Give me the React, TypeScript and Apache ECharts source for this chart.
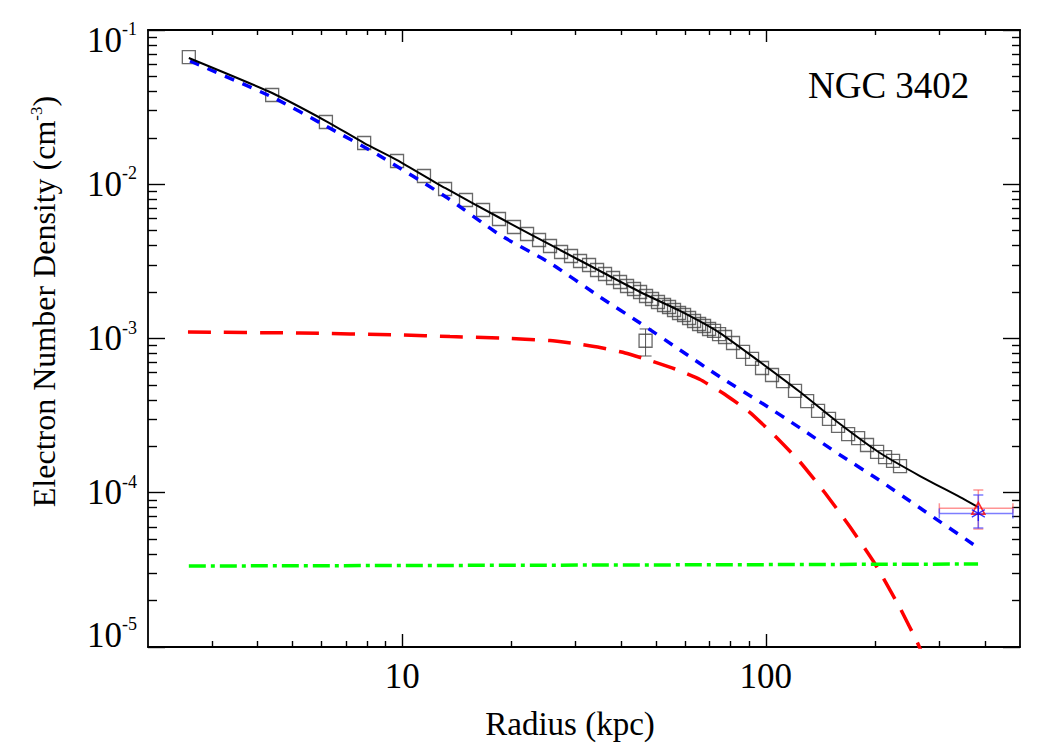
import React, { useEffect, useRef } from 'react';
import * as echarts from 'echarts';

const FONT = '"Liberation Serif", "Times New Roman", Times, serif';

// ---- observed deprojected density profile (open squares)
const dataRadius = [2.59, 4.39, 6.17, 7.86, 9.68, 11.48, 13.12, 14.98, 16.69, 18.46, 20.3, 22.05, 23.79, 25.5, 27.35, 29.13, 30.84, 32.65, 34.35, 36.13, 38.01, 39.73, 41.53, 43.41, 45.1, 46.84, 48.66, 50.52, 52.49, 54.18, 55.92, 57.72, 59.59, 61.51, 63.48, 65.53, 67.63, 69.81, 72.05, 74.37, 77.25, 81.25, 86.57, 91.66, 97.63, 104.0, 111.5, 120.3, 129.9, 139.2, 149.2, 158.0, 168.4, 179.4, 189.8, 202.3, 212.8, 223.8, 233.9];
const dataDensity = [0.0668, 0.0379, 0.02533, 0.01851, 0.01415, 0.01131, 0.009316, 0.007906, 0.006809, 0.005953, 0.005282, 0.004759, 0.004351, 0.003979, 0.003637, 0.003426, 0.003181, 0.002995, 0.00278, 0.002619, 0.002467, 0.002324, 0.00219, 0.002094, 0.002002, 0.001886, 0.001803, 0.001724, 0.001649, 0.0016, 0.00153, 0.001463, 0.00142, 0.001358, 0.001299, 0.001242, 0.001205, 0.001152, 0.001119, 0.001069, 0.001023, 0.000935, 0.000818, 0.000737, 0.000644, 0.00058, 0.00053, 0.000457, 0.000393, 0.000339, 0.000301, 0.000271, 0.00024, 0.000226, 0.000204, 0.000184, 0.00017, 0.000161, 0.000149];

// outlying annulus with its error bar
const outlierRadius = [46.7];
const outlierDensity = [9.67e-4];
const outlierLow = [7.7e-4];
const outlierHigh = [1.153e-3];

// ---- model components
const totalRadius = [2.59, 4.39, 6.17, 7.86, 9.68, 13.12, 18.58, 27.18, 35.0, 45.1, 58.08, 74.82, 96.41, 124.2, 160.0, 206.1, 265.5, 342.1, 383.4];
const totalDensity = [0.06585, 0.03904, 0.0257, 0.01851, 0.01436, 0.009456, 0.006042, 0.003748, 0.002739, 0.002002, 0.001508, 0.001085, 0.000704, 0.00045, 0.000279, 0.000181, 0.0001284, 0.0000938, 0.0000808];

const innerRadius = [2.61, 4.39, 6.17, 8.69, 13.2, 18.58, 25.5, 35.0, 45.1, 58.08, 74.82, 96.41, 124.2, 160.0, 200.9, 265.5, 381.1];
const innerDensity = [0.06295, 0.03677, 0.02385, 0.01524, 0.008265, 0.004688, 0.003087, 0.001858, 0.00126, 0.000842, 0.000563, 0.000388, 0.000263, 0.0001757, 0.0001246, 0.0000796, 0.0000445];

const outerRadius = [2.576, 5.236, 9.865, 13.54, 18.58, 25.5, 29.88, 35.0, 41.02, 48.04, 56.28, 65.93, 77.25, 90.5, 106.0, 124.2, 145.5, 170.5, 199.7, 233.9, 262.2, 282.9];
const outerDensity = [1.102e-3, 1.085e-3, 1.054e-3, 1.03e-3, 1.0075e-3, 9.705e-4, 9.281e-4, 8.743e-4, 8.054e-4, 7.202e-4, 6.343e-4, 5.422e-4, 4.335e-4, 3.309e-4, 2.332e-4, 1.583e-4, 9.963e-5, 5.998e-5, 3.452e-5, 1.79e-5, 1.046e-5, 6.884e-6];

const bgRadius = [2.59, 40.0, 383.4];
const bgDensity = [3.35e-5, 3.4e-5, 3.45e-5];

// ---- outermost point (two estimates)
const extRadius = [384];
const extRadiusLow = [300];
const extRadiusHigh = [478];
const extRedDensity = [7.93e-5];
const extRedLow = [5.82e-5];
const extRedHigh = [1.042e-4];
const extBlueDensity = [7.35e-5];
const extBlueLow = [5.91e-5];
const extBlueHigh = [9.67e-5];

// ---- ticks
const majorX = [10, 100];
const minorX = [3, 4, 5, 6, 7, 8, 9, 20, 30, 40, 50, 60, 70, 80, 90, 200, 300, 400];
const majorY = [1e-5, 1e-4, 1e-3, 1e-2, 1e-1];
const minorY = [2e-5, 3e-5, 4e-5, 5e-5, 6e-5, 7e-5, 8e-5, 9e-5, 2e-4, 3e-4, 4e-4, 5e-4, 6e-4, 7e-4, 8e-4, 9e-4, 2e-3, 3e-3, 4e-3, 5e-3, 6e-3, 7e-3, 8e-3, 9e-3, 2e-2, 3e-2, 4e-2, 5e-2, 6e-2, 7e-2, 8e-2, 9e-2];

const X_MIN = 2;
const X_MAX = 500;
const Y_MIN = 1e-5;
const Y_MAX = 1e-1;

function errorBarRenderer(color: string, cap: number, width: number) {
  return (params: any, api: any) => {
    const x = api.value(0);
    const y = api.value(1);
    const xl = api.value(2);
    const xh = api.value(3);
    const yl = api.value(4);
    const yh = api.value(5);
    const c = api.coord([x, y]);
    const st = { stroke: color, lineWidth: width, fill: 'none' };
    const children: any[] = [];
    if (yl !== yh) {
      const a = api.coord([x, yl]);
      const b = api.coord([x, yh]);
      children.push({ type: 'line', shape: { x1: c[0], y1: a[1], x2: c[0], y2: b[1] }, style: st });
      children.push({ type: 'line', shape: { x1: c[0] - cap, y1: a[1], x2: c[0] + cap, y2: a[1] }, style: st });
      children.push({ type: 'line', shape: { x1: c[0] - cap, y1: b[1], x2: c[0] + cap, y2: b[1] }, style: st });
    }
    if (xl !== xh) {
      const a = api.coord([xl, y]);
      const b = api.coord([xh, y]);
      children.push({ type: 'line', shape: { x1: a[0], y1: c[1], x2: b[0], y2: c[1] }, style: st });
      children.push({ type: 'line', shape: { x1: a[0], y1: c[1] - cap, x2: a[0], y2: c[1] + cap }, style: st });
      children.push({ type: 'line', shape: { x1: b[0], y1: c[1] - cap, x2: b[0], y2: c[1] + cap }, style: st });
    }
    return { type: 'group', children };
  };
}

const zip = (a: number[], b: number[]) => a.map((v, i) => [v, b[i]]);

export default function App() {
  const ref = useRef<HTMLDivElement>(null);
  useEffect(() => {
    document.body.style.margin = '0';
    if (!ref.current) return;
    const chart = echarts.init(ref.current, null, { renderer: 'svg' });

    const logBase = { type: 'log', logBase: 10, splitLine: { show: false }, minorTick: { show: false }, minorSplitLine: { show: false } };
    const lineSt = { color: '#000', width: 1.8 };
    const tickSt = { color: '#000', width: 1.4 };

    const yLabel = (v: number) => {
      const e = Math.round(Math.log10(v));
      if (e === -1) return `{gt| }\n{b|10}{s|${e}}`;
      if (e === -5) return `{b|10}{s|${e}}\n{gb| }`;
      return `{b|10}{s|${e}}`;
    };

    const xAxes: any[] = [
      {
        ...logBase, min: X_MIN, max: X_MAX, position: 'bottom',
        axisLine: { show: true, onZero: false, lineStyle: lineSt },
        axisTick: { show: true, inside: true, length: 13, customValues: majorX, lineStyle: tickSt },
        axisLabel: { show: true, customValues: majorX, formatter: (v: number) => String(Math.round(v)), color: '#000', fontFamily: FONT, fontSize: 35, margin: 12 },
        name: 'Radius (kpc)', nameLocation: 'middle', nameGap: 60,
        nameTextStyle: { fontFamily: FONT, fontSize: 33, color: '#000', padding: [0, 28, 0, 0] },
      },
      {
        ...logBase, min: X_MIN, max: X_MAX, position: 'bottom',
        axisLine: { show: false },
        axisTick: { show: true, inside: true, length: 6, customValues: minorX, lineStyle: tickSt },
        axisLabel: { show: false },
      },
      {
        ...logBase, min: X_MIN, max: X_MAX, position: 'top',
        axisLine: { show: true, onZero: false, lineStyle: lineSt },
        axisTick: { show: true, inside: true, length: 12, customValues: majorX, lineStyle: tickSt },
        axisLabel: { show: false },
      },
      {
        ...logBase, min: X_MIN, max: X_MAX, position: 'top',
        axisLine: { show: false },
        axisTick: { show: true, inside: true, length: 5, customValues: minorX, lineStyle: tickSt },
        axisLabel: { show: false },
      },
    ];

    const yAxes: any[] = [
      {
        ...logBase, min: Y_MIN, max: Y_MAX, position: 'left',
        axisLine: { show: true, onZero: false, lineStyle: lineSt },
        axisTick: { show: true, inside: true, length: 17, customValues: majorY, lineStyle: tickSt },
        axisLabel: {
          show: true, customValues: majorY, margin: 11,
          formatter: yLabel,
          rich: {
            b: { fontFamily: FONT, fontSize: 35, color: '#000', lineHeight: 40 },
            s: { fontFamily: FONT, fontSize: 18, color: '#000', lineHeight: 22, verticalAlign: 'top' },
            gt: { fontSize: 10, lineHeight: 20 },
            gb: { fontSize: 10, lineHeight: 24 },
          },
        },
        name: 'Electron Number Density (cm{s|-3})', nameLocation: 'middle', nameGap: 88,
        nameTextStyle: {
          fontFamily: FONT, fontSize: 32, color: '#000', padding: [0, 0, 0, 74],
          rich: { s: { fontFamily: FONT, fontSize: 17, color: '#000', lineHeight: 20, verticalAlign: 'top' } },
        },
      },
      {
        ...logBase, min: Y_MIN, max: Y_MAX, position: 'left',
        axisLine: { show: false },
        axisTick: { show: true, inside: true, length: 9, customValues: minorY, lineStyle: tickSt },
        axisLabel: { show: false },
      },
      {
        ...logBase, min: Y_MIN, max: Y_MAX, position: 'right',
        axisLine: { show: true, onZero: false, lineStyle: lineSt },
        axisTick: { show: true, inside: true, length: 17, customValues: majorY, lineStyle: tickSt },
        axisLabel: { show: false },
      },
      {
        ...logBase, min: Y_MIN, max: Y_MAX, position: 'right',
        axisLine: { show: false },
        axisTick: { show: true, inside: true, length: 8, customValues: minorY, lineStyle: tickSt },
        axisLabel: { show: false },
      },
    ];

    const option: any = {
      animation: false,
      backgroundColor: '#fff',
      grid: { left: 148, right: 30, top: 30, bottom: 103, containLabel: false, outerBoundsMode: 'none' },
      xAxis: xAxes,
      yAxis: yAxes,
      graphic: [
        { type: 'text', left: 808, top: 67, style: { text: 'NGC 3402', font: `37px ${FONT}`, fill: '#000' } },
      ],
      series: [
        {
          name: 'data', type: 'scatter', data: zip(dataRadius, dataDensity),
          symbol: 'rect', symbolSize: 13,
          itemStyle: { color: 'rgba(0,0,0,0)', borderColor: '#444', borderWidth: 1.3 },
        },
        {
          name: 'outlier', type: 'scatter', data: zip(outlierRadius, outlierDensity),
          symbol: 'rect', symbolSize: 13,
          itemStyle: { color: 'rgba(0,0,0,0)', borderColor: '#444', borderWidth: 1.3 },
        },
        {
          name: 'outlier err', type: 'custom', encode: { x: [0, 2, 3], y: [1, 4, 5] },
          renderItem: errorBarRenderer('#555', 6, 1),
          data: outlierRadius.map((r, i) => [r, outlierDensity[i], r, r, outlierLow[i], outlierHigh[i]]),
        },
        {
          name: 'total', type: 'line', data: zip(totalRadius, totalDensity), showSymbol: false, symbol: 'none',
          smooth: 0.2, lineStyle: { color: '#000', width: 2 }, z: 4,
        },
        {
          name: 'inner', type: 'line', data: zip(innerRadius, innerDensity), showSymbol: false, symbol: 'none',
          smooth: 0.2, lineStyle: { color: '#0000ff', width: 3.5, type: [10, 9] }, z: 3,
        },
        {
          name: 'outer', type: 'line', data: zip(outerRadius, outerDensity), showSymbol: false, symbol: 'none',
          smooth: 0.15, clip: true, lineStyle: { color: '#ff0000', width: 3.5, type: [23, 13] }, z: 3,
        },
        {
          name: 'background', type: 'line', data: zip(bgRadius, bgDensity), showSymbol: false, symbol: 'none',
          lineStyle: { color: '#00ff00', width: 3.5, type: [17, 5, 4, 5] }, z: 3,
        },
        {
          name: 'ext red err', type: 'custom', encode: { x: [0, 2, 3], y: [1, 4, 5] },
          renderItem: errorBarRenderer('rgba(255,90,90,0.65)', 5, 1.5), z: 5,
          data: extRadius.map((r, i) => [r, extRedDensity[i], extRadiusLow[i], extRadiusHigh[i], extRedLow[i], extRedHigh[i]]),
        },
        {
          name: 'ext blue err', type: 'custom', encode: { x: [0, 2, 3], y: [1, 4, 5] },
          renderItem: errorBarRenderer('rgba(70,70,255,0.7)', 5, 1.5), z: 5,
          data: extRadius.map((r, i) => [r, extBlueDensity[i], extRadiusLow[i], extRadiusHigh[i], extBlueLow[i], extBlueHigh[i]]),
        },
        {
          name: 'ext red', type: 'scatter', data: zip(extRadius, extRedDensity), z: 6,
          symbol: 'triangle', symbolSize: [13, 12],
          itemStyle: { color: 'rgba(0,0,0,0)', borderColor: '#ff0000', borderWidth: 1.6 },
        },
        {
          name: 'ext blue', type: 'scatter', data: zip(extRadius, extBlueDensity), z: 6,
          symbol: 'path://M0,-10L0,10M-8.66,-5L8.66,5M-8.66,5L8.66,-5', symbolSize: [13, 15],
          itemStyle: { color: 'rgba(0,0,0,0)', borderColor: '#0000ff', borderWidth: 1.4 },
        },
      ],
    };
    chart.setOption(option);
    return () => chart.dispose();
  }, []);
  return <div ref={ref} style={{ width: 1050, height: 750 }} />;
}
